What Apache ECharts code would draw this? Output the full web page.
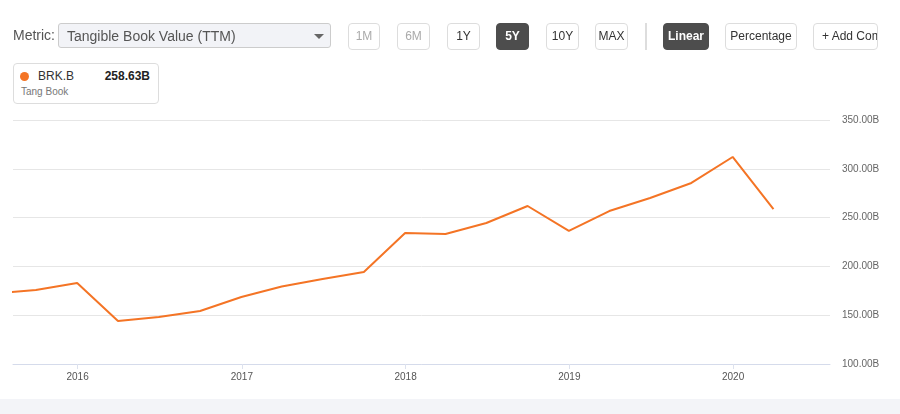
<!DOCTYPE html>
<html>
<head>
<meta charset="utf-8">
<script src="https://cdn.jsdelivr.net/npm/echarts@6/dist/echarts.min.js"></script>
<style>
  html,body{margin:0;padding:0;width:900px;height:414px;overflow:hidden;background:#fff;font-family:Arial,"Liberation Sans",sans-serif;}
  #chart{position:absolute;left:0;top:0;width:900px;height:414px;}
  .bottomband{position:absolute;left:0;top:399px;width:900px;height:15px;background:#f3f4f8;}
  .ui{position:absolute;box-sizing:border-box;white-space:nowrap;}
  .metric{left:13px;top:27px;font-size:14px;color:#555;}
  .select{left:58px;top:23px;width:273px;height:25px;border:1px solid #ccc;border-radius:3px;background:#f2f3f7;font-size:14px;color:#555;padding:4px 0 0 8px;}
  .caret{position:absolute;right:6px;top:10px;width:0;height:0;border-left:5px solid transparent;border-right:5px solid transparent;border-top:5px solid #666;}
  .btn{top:23px;height:27px;border:1px solid #ddd;border-radius:4px;font-size:12px;color:#333;text-align:center;line-height:25px;background:#fff;}
  .dis{color:#aaa;}
  .act{background:#4d4d4d;border-color:#4d4d4d;color:#fff;font-weight:bold;}
  .sep{left:645px;top:23px;width:2px;height:27px;background:#ddd;}
  .legend{left:13px;top:63px;width:146px;height:41px;border:1px solid #ddd;border-radius:4px;background:#fff;}
  .dot{position:absolute;left:6px;top:8px;width:9px;height:9px;border-radius:50%;background:#f47425;}
  .tk{position:absolute;left:24px;top:5px;font-size:12px;color:#333;}
  .val{position:absolute;right:8px;top:5px;font-size:12px;color:#222;font-weight:bold;}
  .sub{position:absolute;left:7px;top:22px;font-size:10px;color:#777;}
</style>
</head>
<body>
<div id="chart"></div>
<div class="bottomband"></div>
<div class="ui metric">Metric:</div>
<div class="ui select">Tangible Book Value (TTM)<span class="caret"></span></div>
<div class="ui btn dis" style="left:348px;width:32px;">1M</div>
<div class="ui btn dis" style="left:397px;width:33px;">6M</div>
<div class="ui btn" style="left:447px;width:33px;">1Y</div>
<div class="ui btn act" style="left:496px;width:33px;">5Y</div>
<div class="ui btn" style="left:546px;width:33px;">10Y</div>
<div class="ui btn" style="left:595px;width:33px;">MAX</div>
<div class="ui sep"></div>
<div class="ui btn act" style="left:663px;width:46px;">Linear</div>
<div class="ui btn" style="left:725px;width:72px;">Percentage</div>
<div class="ui btn" style="left:813px;width:65px;text-align:left;padding-left:8px;overflow:hidden;">+ Add Comparison</div>
<div class="ui legend">
  <div class="dot"></div>
  <div class="tk">BRK.B</div>
  <div class="val">258.63B</div>
  <div class="sub">Tang Book</div>
</div>
<script>
// Data (billions USD)
const dates = ['2015-06-30','2015-09-30','2015-12-31','2016-03-31','2016-06-30','2016-09-30','2016-12-31',
  '2017-03-31','2017-06-30','2017-09-30','2017-12-31','2018-03-31','2018-06-30','2018-09-30','2018-12-31',
  '2019-03-31','2019-06-30','2019-09-30','2019-12-31','2020-03-31'];
const tangBook = [172.3,175.8,183.0,144.1,148.2,154.3,168.6,179.4,187.1,194.3,234.2,233.2,244.5,261.9,236.3,
  256.7,270.1,285.5,312.1,258.63];
const yearLabels = ['2016','2017','2018','2019','2020'];
const yMin = 100, yMax = 350, yStep = 50;
const xMin = '2015-08-10', xMax = '2020-08-04';

const chart = echarts.init(document.getElementById('chart'));
chart.setOption({
  animation:false,
  grid:{left:13,right:70,top:120,bottom:50,containLabel:false},
  xAxis:{
    type:'time', min:xMin, max:xMax,
    minInterval:365*86400000, maxInterval:366*86400000,
    axisLine:{lineStyle:{color:'#d5dbeb',width:1}},
    axisTick:{show:true,length:5,lineStyle:{color:'#dde2ee'}},
    splitLine:{show:false},
    axisLabel:{color:'#555',fontSize:10,margin:8,fontFamily:'Arial',
      formatter:function(v){const d=new Date(v);const y=String(d.getFullYear());return yearLabels.indexOf(y)>=0&&d.getMonth()===0?y:'';}}
  },
  yAxis:{
    type:'value', position:'right', min:yMin, max:yMax, interval:yStep,
    axisLine:{show:false}, axisTick:{show:false},
    splitLine:{lineStyle:{color:'#e6e6e6',width:1}},
    axisLabel:{color:'#666',fontSize:10,margin:12,fontFamily:'Arial',formatter:function(v){return v.toFixed(2)+'B';}}
  },
  series:[{
    type:'line', name:'BRK.B', showSymbol:false, clip:true,
    data:dates.map((d,i)=>[d,tangBook[i]]),
    lineStyle:{color:'#f47425',width:2}, itemStyle:{color:'#f47425'}
  }]
});
</script>
</body>
</html>
